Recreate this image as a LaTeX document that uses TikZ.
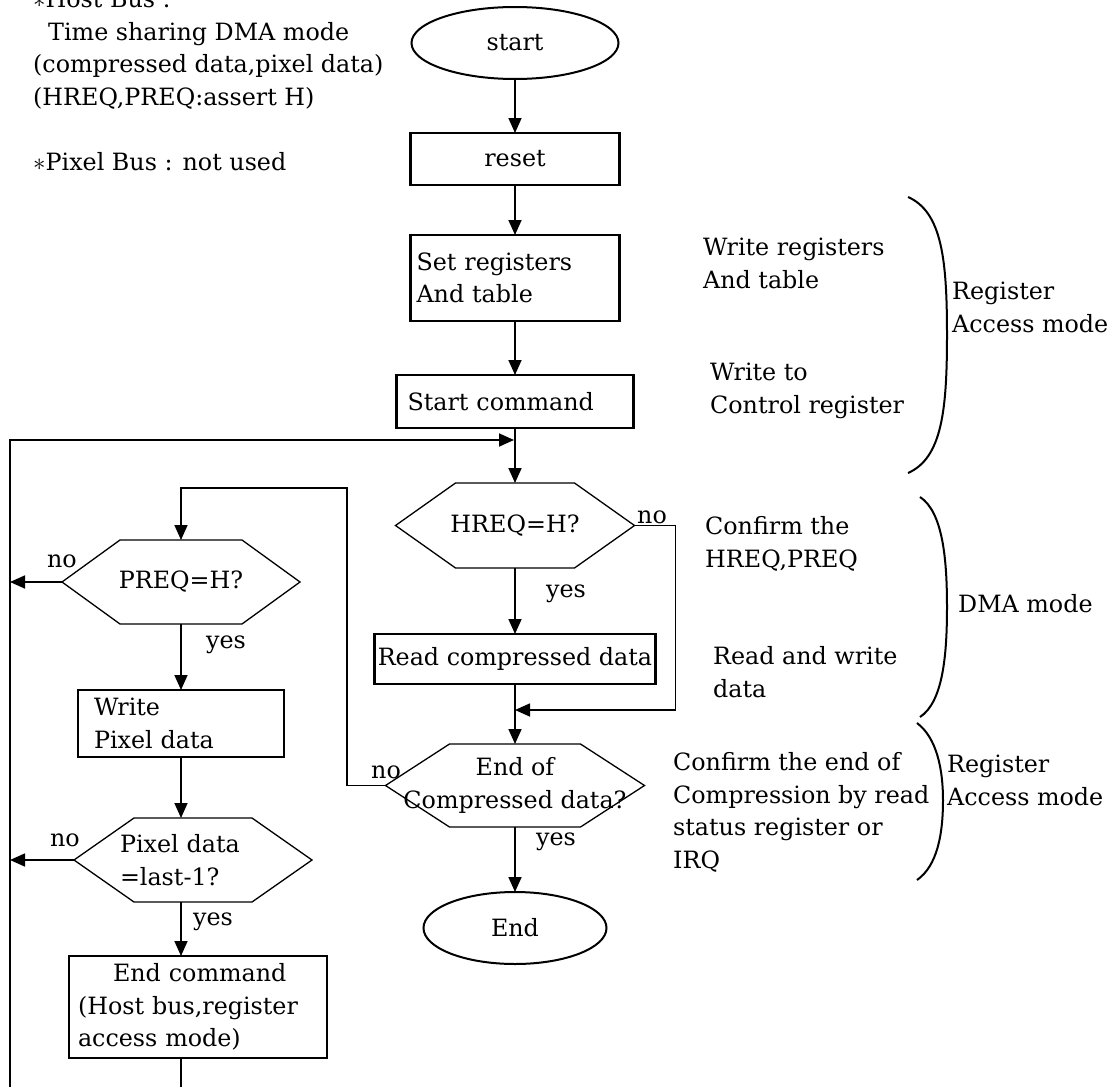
\documentclass[tikz,border=0pt]{standalone}
\usepackage{fontspec}
\setmainfont{DejaVu Serif}
\usetikzlibrary{arrows.meta, positioning, shapes.geometric}

\begin{document}
\begin{tikzpicture}[x=1pt, y=-1pt,
        font=\fontsize{23.8}{32.5}\selectfont,
        box/.style={rectangle, draw, line width=2.4pt, inner sep=0pt, outer sep=0pt},
        term/.style={ellipse, draw, line width=2pt, inner sep=0pt, outer sep=0pt},
        dec/.style={rectangle, inner sep=0pt, outer sep=0pt, minimum height=84},
        arr/.style={-{Triangle[length=15pt,width=13pt]}, line width=1.7pt},
        brace/.style={line width=2pt},
        note/.style={anchor=base west, align=left, inner sep=0pt},
        lbl/.style={anchor=base, inner sep=0pt}]
      \path[use as bounding box, clip] (0,0) rectangle (1112,1087);

      % main column
      \node[term, minimum width=207, minimum height=72] (start) at (515,43) {start};
      \node[box, minimum width=209, minimum height=52, below=54pt of start] (reset) {reset};
      \node[box, minimum width=209, minimum height=86, below=50pt of reset,
            align=left, text width=197, inner xsep=6pt] (setreg) {Set registers\\And table};
      \node[box, minimum width=237, minimum height=53, below=54pt of setreg,
            align=left, text width=215, inner xsep=11pt] (startcmd) {Start command};
      \node[dec, minimum width=239, minimum height=85, below=55pt of startcmd] (hreq) {HREQ=H?};
      \node[box, minimum width=281, minimum height=50, below=66pt of hreq] (rcd) {Read compressed data};
      \node[dec, minimum width=259, minimum height=83, below=60pt of rcd, align=center] (endc) {End of\\Compressed data?};
      \node[term, minimum width=183, minimum height=72, below=65pt of endc] (fin) {End};

      % left column
      \node[dec, minimum width=238] (preq) at (181,582) {PREQ=H?};
      \node[box, minimum width=206, minimum height=67, align=left, text width=174,
            inner xsep=16pt] (wrt) at (181,723.5) {Write\\Pixel data};
      \node[dec, minimum width=238, align=left, text width=146, inner xsep=46pt] (last) at (193,860) {Pixel data\\=last-1?};
      \node[box, minimum width=258, minimum height=102, align=left, text width=240,
            inner xsep=9pt] (endcmd) at (198,1007) {\hspace{35pt}End command\\(Host bus,register\\access mode)};

      % hexagon outlines
      \foreach \hx/\ins in {hreq/60, endc/64, preq/58, last/60}
        \draw[line width=1.3pt] (\hx.west) -- ([xshift=\ins]\hx.north west) -- ([xshift=-\ins]\hx.north east)
          -- (\hx.east) -- ([xshift=-\ins]\hx.south east) -- ([xshift=\ins]\hx.south west) -- cycle;

      \coordinate (mrg) at (515,710);
      \coordinate (lp) at (347,488);
      \coordinate (bl) at (10,1110);
      \coordinate (jn) at (514,440);

      \draw[arr] (start) -- (reset);
      \draw[arr] (reset) -- (setreg);
      \draw[arr] (setreg) -- (startcmd);
      \draw[arr] (startcmd) -- (hreq);
      \draw[arr] (hreq) -- (rcd);
      \draw[arr] (rcd) -- (endc);
      \draw[arr] (hreq.east) -- ++(41,0) |- (mrg);
      \draw[arr] (endc) -- (fin);
      \draw[arr] (endc.west) -| (lp) -| (preq.north);
      \draw[arr] (preq) -- (wrt);
      \draw[arr] (wrt) -- (wrt |- last.north);
      \draw[arr] (wrt |- last.south) -- (wrt |- endcmd.north);
      \draw[arr] (wrt |- endcmd.south) |- (bl) |- (jn);
      \draw[arr] (preq.west) -- (preq.west -| bl);
      \draw[arr] (last.west) -- (last.west -| bl);

      \node[lbl] (no1) at (652,523) {no};
      \node[lbl] (yes1) at (566,597) {yes};
      \node[lbl] (no2) at (386,778) {no};
      \node[lbl] (yes2) at (556,845) {yes};
      \node[lbl] (no3) at (62,567) {no};
      \node[lbl] (yes3) at (226,648) {yes};
      \node[lbl] (no4) at (65,846) {no};
      \node[lbl] (yes4) at (213,925) {yes};

      % notes (base = last line)
      \node[note] (bus) at (33,170) {$\ast$Host Bus :\\\hspace{15pt}Time sharing DMA mode\\(compressed data,pixel data)\\(HREQ,PREQ:assert H)\\[32.5pt]$\ast$Pixel Bus : not used};
      \node[note] (n1) at (703,288) {Write registers\\And table};
      \node[note] (n2) at (710,413) {Write to\\Control register};
      \node[note] (n3) at (705,567) {Confirm the\\HREQ,PREQ};
      \node[note] (n4) at (713,697) {Read and write\\data};
      \node[note] (n5) at (673,868) {Confirm the end of\\Compression by read\\status register or\\IRQ};
      \node[note] (m1) at (952,332) {Register\\Access mode};
      \node[note] (m2) at (958,612) {DMA mode};
      \node[note] (m3) at (947,805) {Register\\Access mode};

      % braces
      \draw[brace] (908,197) .. controls (942,212) and (947,260) .. (947,335) .. controls (947,410) and (942,458) .. (908,473);
      \draw[brace] (920,497) .. controls (943,512) and (947,560) .. (947,607) .. controls (947,655) and (943,702) .. (920,717);
      \draw[brace] (917,723) .. controls (937,738) and (943,770) .. (943,800) .. controls (943,835) and (937,866) .. (917,880);
    \end{tikzpicture}
\end{document}
